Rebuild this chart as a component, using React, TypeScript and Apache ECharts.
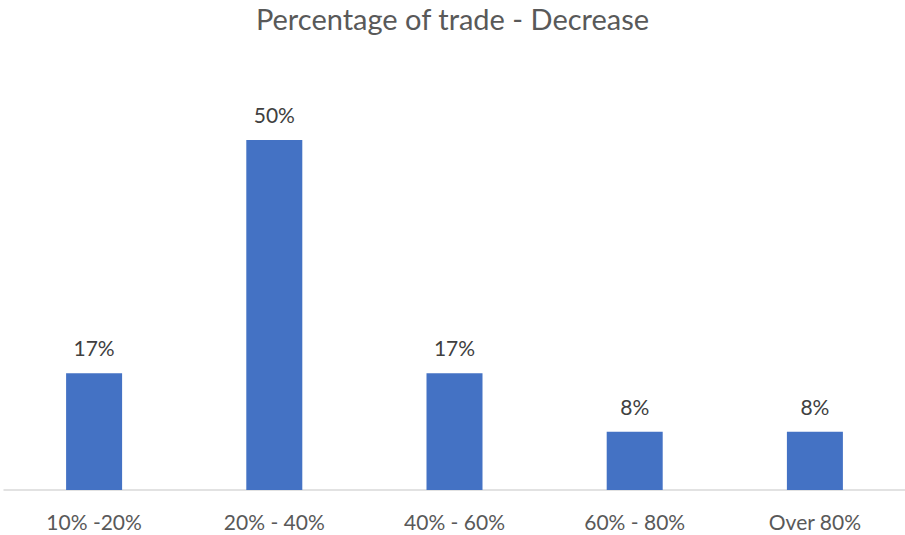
import React, { useEffect, useRef } from "react";
import * as echarts from "echarts";

const title = "Percentage of trade - Decrease";
const categories = ["10% -20%", "20% - 40%", "40% - 60%", "60% - 80%", "Over 80%"];
const values = [16.67, 50, 16.67, 8.33, 8.33];

export default function App() {
  const ref = useRef<HTMLDivElement>(null);
  useEffect(() => {
    if (!ref.current) return;
    const chart = echarts.init(ref.current, null, { renderer: "svg" });
    chart.setOption({
      animation: false,
      backgroundColor: "#ffffff",
      title: {
        text: title,
        left: "center",
        top: -1,
        textStyle: {
          fontFamily: "Lato",
          fontSize: 29,
          fontWeight: "normal",
          color: "#595959",
        },
      },
      grid: { left: 4, right: 0, top: 70, bottom: 45, containLabel: false },
      xAxis: {
        type: "category",
        data: categories,
        axisLine: { show: true, lineStyle: { color: "#d9d9d9", width: 1.5 } },
        axisTick: { show: false },
        axisLabel: {
          margin: 21,
          fontFamily: "Lato",
          fontSize: 21,
          color: "#595959",
        },
      },
      yAxis: {
        type: "value",
        min: 0,
        max: 60,
        show: false,
        splitLine: { show: false },
      },
      series: [
        {
          type: "bar",
          data: values,
          barWidth: 56,
          itemStyle: { color: "#4472C4" },
          label: {
            show: true,
            position: "top",
            distance: 15,
            fontFamily: "Lato",
            fontSize: 21,
            color: "#404040",
            formatter: (p: any) => Math.round(p.value) + "%",
          },
        },
      ],
    });
    return () => chart.dispose();
  }, []);
  return (
    <div
      ref={ref}
      style={{ position: "fixed", left: 0, top: 0, width: 905, height: 535 }}
    />
  );
}
